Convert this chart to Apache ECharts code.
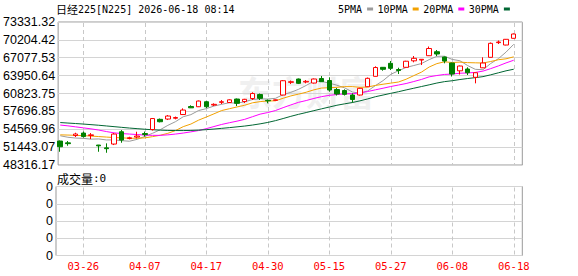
<!DOCTYPE html>
<html><head><meta charset="utf-8">
<script src="https://cdn.jsdelivr.net/npm/echarts@6/dist/echarts.min.js"></script>
<style>html,body{margin:0;padding:0;background:#fff}#c{width:578px;height:276px}</style>
</head><body><div id="c"></div>
<script>
const dates = ['03-23','03-24','03-25','03-26','03-27','03-30','03-31','04-01','04-02','04-03','04-06','04-07','04-08','04-09','04-10','04-13','04-14','04-15','04-16','04-17','04-20','04-21','04-22','04-23','04-24','04-27','04-28','04-30','05-01','05-07','05-08','05-11','05-12','05-13','05-14','05-15','05-18','05-19','05-20','05-21','05-22','05-25','05-26','05-27','05-28','05-29','06-01','06-02','06-03','06-04','06-05','06-08','06-09','06-10','06-11','06-12','06-15','06-16','06-17','06-18'];
const labelDates = ['03-26','04-07','04-17','04-30','05-15','05-27','06-08','06-18'];
const open = [52505,52190,53467,53905,53467,51805,51315,51980,54133,52943,53205,53818,54518,56303,56355,56495,57143,58542,58508,59383,58805,59278,59243,59855,59418,59943,60643,59628,59628,60555,62778,63355,62830,62655,63443,63093,61518,61343,60555,60555,62008,63828,65403,66103,65018,65403,66540,66680,67433,68133,67205,66155,64790,65105,63653,65315,67153,69725,69305,70478];
const close = [51508,52050,53730,53293,53590,51665,51175,53730,52680,53083,53380,53643,56443,55883,56880,56618,57930,58315,59505,58508,58928,59383,59715,59103,59805,60818,59978,59540,59715,63058,62883,62603,62953,63355,62883,61430,60730,60678,59768,61728,63478,65368,65053,65228,64843,66470,66978,66803,68693,67730,66505,64230,65630,64458,64458,66155,69603,69830,70303,71230];
const low = [50633,51683,53205,53118,52855,50633,50458,51805,52208,52803,52978,53293,54343,55778,56180,56303,57055,58280,58455,58280,58630,58980,59155,58630,59155,59680,59680,59103,59558,60503,62480,62480,62603,62568,62830,61133,60468,60468,59243,60468,61955,63793,64808,64930,64230,65368,66278,65805,67380,67380,66103,63793,64143,64055,62603,65280,67118,69480,69253,70443];
const high = [52600,52505,53958,54168,53905,51830,52103,53905,54430,53258,54133,54168,56530,56443,57055,56793,58228,58753,59593,59505,59103,59680,59803,59943,59890,61028,60818,59768,59768,63180,63093,63443,63180,63443,63880,63653,61780,61553,60853,61815,63618,65578,65455,66505,65333,66540,67380,66830,69043,68430,67293,66208,65718,65403,64493,67153,69743,70093,70355,71318];
const ma5 = [53432,53170,53030,52978,52838,52873,52698,52698,52575,52470,52803,53310,53858,54483,55253,55900,56758,57125,57843,58175,58630,58928,59208,59120,59383,59768,59890,59855,59978,60625,61028,61553,62235,62970,62935,62638,62270,61815,61098,60870,61273,62200,63075,64178,64790,65385,65718,66068,66750,67328,67345,66785,66558,65718,65053,64983,66068,66908,68063,69428];
const ma10 = [53590,53555,53503,53450,53380,53293,53205,53118,53065,52995,52995,53065,53275,53520,53858,54343,55025,55480,56163,56705,57265,57843,58158,58473,58770,59190,59400,59523,59540,59995,60398,60713,61045,61465,61780,61833,61903,62025,62025,61903,61955,62235,62445,62638,62830,63320,63950,64563,65455,66050,66365,66243,66313,66225,66190,66155,66418,66733,66890,67240];
const ma20 = [55305,55165,54990,54815,54640,54430,54168,53940,53818,53730,53643,53555,53503,53503,53590,53730,53905,54115,54343,54675,55043,55410,55708,55988,56303,56758,57213,57493,57843,58350,58823,59278,59593,59960,60275,60503,60643,60765,60783,60940,61168,61465,61745,62043,62305,62568,62918,63285,63740,63968,64160,64230,64370,64423,64510,64738,65175,65648,66173,66645];
const ma30 = [55742,55655,55568,55480,55375,55270,55148,55025,54903,54780,54675,54570,54483,54413,54360,54343,54343,54360,54413,54500,54605,54728,54850,54990,55130,55305,55515,55760,56075,56443,56828,57178,57493,57825,58140,58455,58770,59015,59243,59540,59873,60258,60555,60853,61133,61448,61745,62043,62340,62655,62900,63058,63268,63443,63600,63775,64090,64440,64790,65070];
const volume = new Array(60).fill(0);
const priceTicks = ['48316.17','51443.07','54569.96','57696.85','60823.75','63950.64','67077.53','70204.42','73331.32'];
const volTicks = ['0','0','0','0','0'];
const titleName = '日经';
const titleCode = '225[N225] 2026-06-18 08:14';
const volTitle = '成交量';
const volValue = ':0';

const yMin = 48316.17, yStep = 3126.894375, yMax = yMin + 8 * yStep;
const axisCats = dates.concat(['']);
const ohlc = dates.map((d, i) => [open[i], close[i], low[i], high[i]]);
const mono = 'DejaVu Sans Mono';
const band = 7.686, plotLeft = 56.4;

const chart = echarts.init(document.getElementById('c'), null, { renderer: 'svg' });
const maLine = (name, data, color) => ({ name, type: 'line', data, xAxisIndex: 0, yAxisIndex: 0,
  showSymbol: false, symbol: 'none', smooth: false, lineStyle: { width: 1, color }, itemStyle: { color }, z: 3 });
const vLineSeries = (xi, yi, yv) => ({
  type: 'custom', xAxisIndex: xi, yAxisIndex: yi, silent: true, z: 1, clip: false,
  data: labelDates.map(d => [d, yv]),
  encode: { x: 0, y: 1 },
  renderItem: (params, api) => {
    try {
      const cs = params.coordSys;
      const x = Math.round(api.coord([api.value(0), api.value(1)])[0]) + 0.5;
      const children = [];
      for (let y = cs.y + 1; y < cs.y + cs.height; y += 7) {
        children.push({ type: 'line', silent: true,
          shape: { x1: x, y1: y, x2: x, y2: Math.min(y + 4, cs.y + cs.height) },
          style: { stroke: '#c8c8c8', lineWidth: 1 } });
      }
      return { type: 'group', children };
    } catch (e) { return null; }
  }
});

chart.setOption({
  animation: false,
  backgroundColor: '#fff',
  title: [
    { left: 56, top: 2, padding: 0, text: '{c|' + titleName + '}{a|' + titleCode + '}',
      textStyle: { fontWeight: 'normal', rich: { c: { fontFamily: 'Noto Sans CJK SC', fontWeight: 'normal', fontSize: 11, color: '#000', lineHeight: 14 },
                           a: { fontFamily: mono, fontWeight: 'normal', fontSize: 10, color: '#000', lineHeight: 14 } } } },
    { left: 57, top: 171, padding: 0, text: '{c|' + volTitle + '}{a|' + volValue + '}',
      textStyle: { fontWeight: 'normal', rich: { c: { fontFamily: 'Noto Sans CJK SC', fontWeight: 'normal', fontSize: 12, color: '#000', lineHeight: 14 },
                           a: { fontFamily: mono, fontWeight: 'normal', fontSize: 11, color: '#000', lineHeight: 14 } } } }
  ],
  legend: { left: 338, top: 3, padding: 0, align: 'right', itemWidth: 6, itemHeight: 3, itemGap: 4.5,
    textStyle: { fontFamily: mono, fontSize: 10, color: '#000', lineHeight: 12 },
    data: [ { name: '5PMA', icon: 'rect' }, { name: '10PMA', icon: 'rect' }, { name: '20PMA', icon: 'rect' }, { name: '30PMA', icon: 'rect' } ] },
  graphic: [
    { type: 'text', left: 238, top: 74, z: -10, silent: true,
      style: { text: '东方财富', fontFamily: 'Noto Sans CJK SC', fontWeight: 'bold', fontSize: 34, fill: '#f0f0f0' } }
  ],
  grid: [
    { left: plotLeft, top: 22, width: 61 * band, height: 143, show: false },
    { left: 56, top: 22, width: 466.3, height: 143, show: true, borderColor: '#999', borderWidth: 1, backgroundColor: 'transparent' },
    { left: plotLeft, top: 186.5, width: 61 * band, height: 69, show: false },
    { left: 56, top: 186.5, width: 466.3, height: 69, show: true, borderColor: '#999', borderWidth: 1, backgroundColor: 'transparent' }
  ],
  xAxis: [
    { type: 'category', gridIndex: 0, data: axisCats, boundaryGap: true, show: false },
    { type: 'value', gridIndex: 1, min: 0, max: 1, show: false },
    { type: 'category', gridIndex: 2, data: axisCats, boundaryGap: true,
      axisLine: { show: false }, axisTick: { show: false }, splitLine: { show: false },
      axisLabel: { show: true, margin: 5, color: '#ff0000', fontFamily: mono, fontSize: 10.5,
        interval: (idx, val) => labelDates.indexOf(val) >= 0 } },
    { type: 'value', gridIndex: 3, min: 0, max: 1, show: false }
  ],
  yAxis: [
    { type: 'value', gridIndex: 0, min: yMin, max: yMax, interval: yStep, show: false },
    { type: 'value', gridIndex: 1, min: yMin, max: yMax, interval: yStep,
      axisLine: { show: false }, axisTick: { show: false },
      splitLine: { show: true, lineStyle: { color: '#d4d4d4', width: 1 } },
      axisLabel: { margin: 3, color: '#000', fontFamily: 'Liberation Sans', fontSize: 12.5,
        formatter: v => priceTicks[Math.round((v - yMin) / yStep)] } },
    { type: 'value', gridIndex: 2, min: 0, max: 4, interval: 1, show: false },
    { type: 'value', gridIndex: 3, min: 0, max: 4, interval: 1,
      axisLine: { show: false }, axisTick: { show: false },
      splitLine: { show: true, lineStyle: { color: '#d4d4d4', width: 1 } },
      axisLabel: { margin: 3, color: '#000', fontFamily: 'Liberation Sans', fontSize: 12.5,
        formatter: v => volTicks[Math.round(v)] } }
  ],
  series: [
    vLineSeries(0, 0, yMin),
    vLineSeries(2, 2, 0),
    { name: 'K', type: 'candlestick', xAxisIndex: 0, yAxisIndex: 0, data: ohlc, barWidth: 5, z: 4,
      itemStyle: { color: '#ffffff', color0: '#008000', borderColor: '#ff0000', borderColor0: '#008000', borderWidth: 1 } },
    maLine('5PMA', ma5, '#9b9b9b'),
    maLine('10PMA', ma10, '#f2a100'),
    maLine('20PMA', ma20, '#ff00ff'),
    maLine('30PMA', ma30, '#006633'),
    { name: 'VOL', type: 'bar', xAxisIndex: 2, yAxisIndex: 2, data: volume, barWidth: 5,
      itemStyle: { color: 'rgba(0,0,0,0)' } }
  ]
});
const zr = chart.getZr();
try { if (zr.refreshImmediately) zr.refreshImmediately(); } catch (e) {}
</script></body></html>
